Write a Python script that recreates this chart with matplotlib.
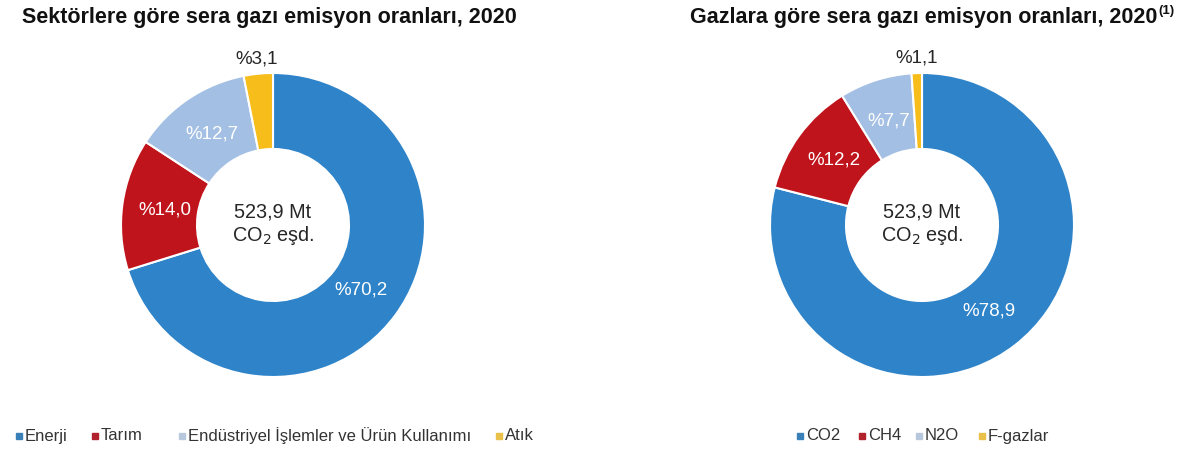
import numpy as np
import matplotlib
matplotlib.use("Agg")
import matplotlib.pyplot as plt
from matplotlib.lines import Line2D

plt.rcParams['font.family'] = ['Liberation Sans', 'DejaVu Sans']

# Sector shares (%)
sector_labels = ["Enerji", "Tarım", "Endüstriyel İşlemler ve Ürün Kullanımı", "Atık"]
sector_values = [70.2, 14.0, 12.7, 3.1]

# Gas shares (%)
gas_labels = ["CO2", "CH4", "N2O", "F-gazlar"]
gas_values = [78.9, 12.2, 7.7, 1.1]

total_text = "523,9 Mt\nCO$_2$ eşd."

colors = ["#2E83C9", "#C0141C", "#A3BFE3", "#F7BD1B"]
legend_colors = ["#3A80B8", "#B2222C", "#B8C8DC", "#E8C04A"]

W, H = 1191, 454
fig = plt.figure(figsize=(W / 100, H / 100), dpi=100)
fig.patch.set_facecolor("white")


def donut(cx, cy, R, values):
    ax = fig.add_axes([(cx - R) / W, (H - cy - R) / H, 2 * R / W, 2 * R / H])
    wedges, _ = ax.pie(values, radius=1.0, startangle=90, counterclock=False,
                       colors=colors,
                       wedgeprops=dict(width=0.5, edgecolor="white", linewidth=1.5))
    ax.set_xlim(-1, 1)
    ax.set_ylim(-1, 1)
    ax.set_aspect("equal")
    ax.axis("off")
    for w, v in zip(wedges, values):
        mid = np.deg2rad((w.theta1 + w.theta2) / 2)
        txt = "%" + f"{v:.1f}".replace(".", ",")
        if v < 5:
            r = 1.1
            ax.text(r * np.cos(mid), r * np.sin(mid), txt, ha="center", va="center",
                    fontsize=13.5, color="#262626")
        else:
            r = 0.72
            ax.text(r * np.cos(mid), r * np.sin(mid), txt, ha="center", va="center",
                    fontsize=13.5, color="white")
    ax.text(0, 0.0, total_text, ha="center", va="center", fontsize=14.3,
            color="#262626", linespacing=1.15)
    return ax


donut(273, 225, 152, sector_values)
donut(922, 225, 152, gas_values)

# Titles
fig.text(22 / W, 1 - 17 / H, "Sektörlere göre sera gazı emisyon oranları, 2020",
         ha="left", va="center", fontsize=15.5, fontweight="bold", color="#111111")
t2 = fig.text(690 / W, 1 - 17 / H, "Gazlara göre sera gazı emisyon oranları, 2020",
              ha="left", va="center", fontsize=15.5, fontweight="bold", color="#111111")
fig.canvas.draw()
bb = t2.get_window_extent()
fig.text((bb.x1 + 1) / W, 1 - 11 / H, "(1)", ha="left", va="center",
         fontsize=9.5, fontweight="bold", color="#111111")


def legend_row(labels, xs, y):
    for lab, x, c in zip(labels, xs, legend_colors):
        fig.add_artist(Line2D([x / W], [1 - y / H], marker="s", markersize=4.5,
                              color=c, linestyle="none", transform=fig.transFigure))
        fig.text((x + 6) / W, 1 - y / H, lab, ha="left", va="center",
                 fontsize=12, color="#333333")


legend_row(sector_labels, [19, 95, 182, 499], 436)
legend_row(gas_labels, [800, 862, 919, 982], 436)

fig.savefig("out.png", dpi=100, facecolor="white")
